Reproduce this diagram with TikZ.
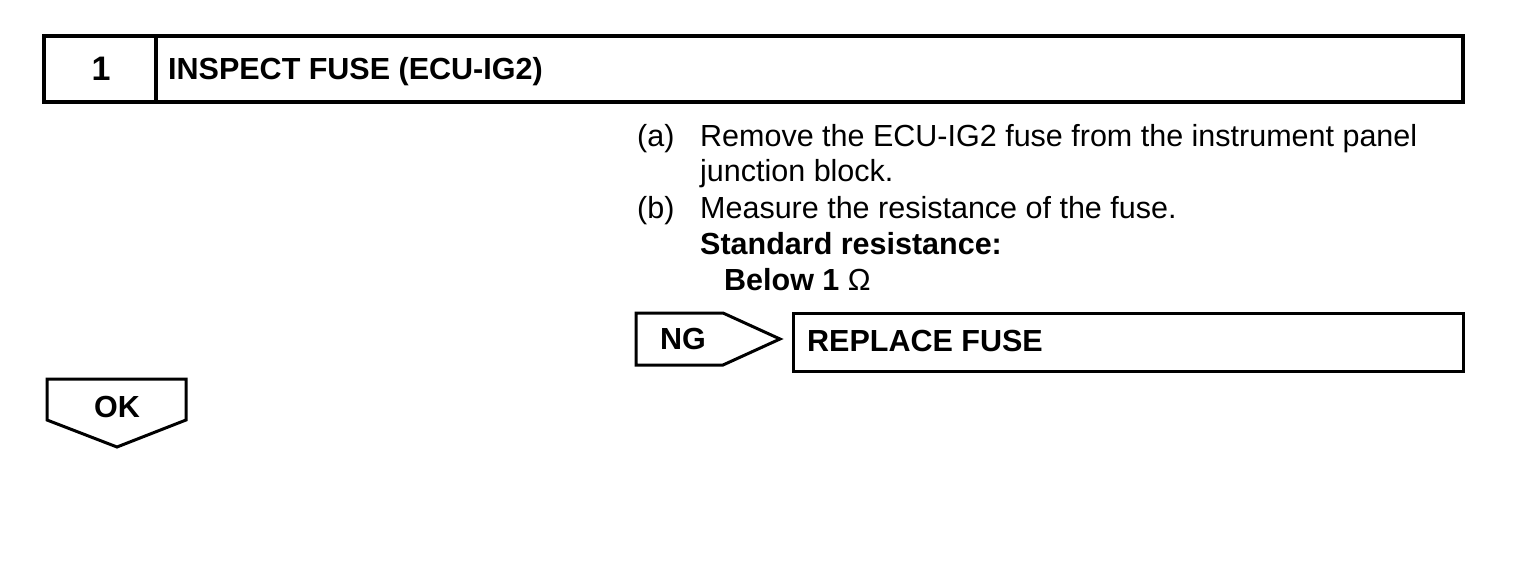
\documentclass[tikz,border=0pt]{standalone}
\usepackage{fontspec}
\setmainfont{Liberation Sans}
\begin{document}
\begin{tikzpicture}[x=1pt,y=-1pt,
  headframe/.style={line width=4pt},
  frame/.style={line width=3pt},
  head/.style={font=\fontsize{30.5}{36}\selectfont\bfseries, inner sep=0pt},
  body/.style={font=\fontsize{30.5}{36}\selectfont, anchor=base west, inner sep=0pt},
  bodyb/.style={body, font=\fontsize{30.5}{36}\selectfont\bfseries}]
\useasboundingbox (0,0) rectangle (1536,562);
% header
\draw[headframe] (44,36) rectangle (1463,102);
\draw[headframe] (156,36) -- (156,102);
\node[head, font=\fontsize{34}{36}\selectfont\bfseries, anchor=base] (num) at (101,80) {1};
\node[head, anchor=base west] (title) at (168,79) {INSPECT FUSE (ECU-IG2)};
% body text
\node[body] (la) at (637,146) {(a)};
\node[body] (ta1) at (700,146) {Remove the ECU-IG2 fuse from the instrument panel};
\node[body] (ta2) at (700,181) {junction block.};
\node[body] (lb) at (637,218) {(b)};
\node[body] (tb1) at (700,218) {Measure the resistance of the fuse.};
\node[bodyb] (tb2) at (700,254) {Standard resistance:};
\node[bodyb] (tb3) at (724,290) {Below 1 \textmd{Ω}};
% NG arrow
\draw[frame] (636,313) -- (723,313) -- (780,339) -- (723,365) -- (636,365) -- cycle;
\node[head] (ng) at (683,339) {NG};
\draw[frame] (793,313) rectangle (1463,371);
\node[head, anchor=west] (rep) at (807,341) {REPLACE FUSE};
% OK arrow
\draw[frame] (47,379) -- (186,379) -- (186,420) -- (117,447) -- (47,420) -- cycle;
\node[head] (ok) at (117,407) {OK};
\end{tikzpicture}
\end{document}
